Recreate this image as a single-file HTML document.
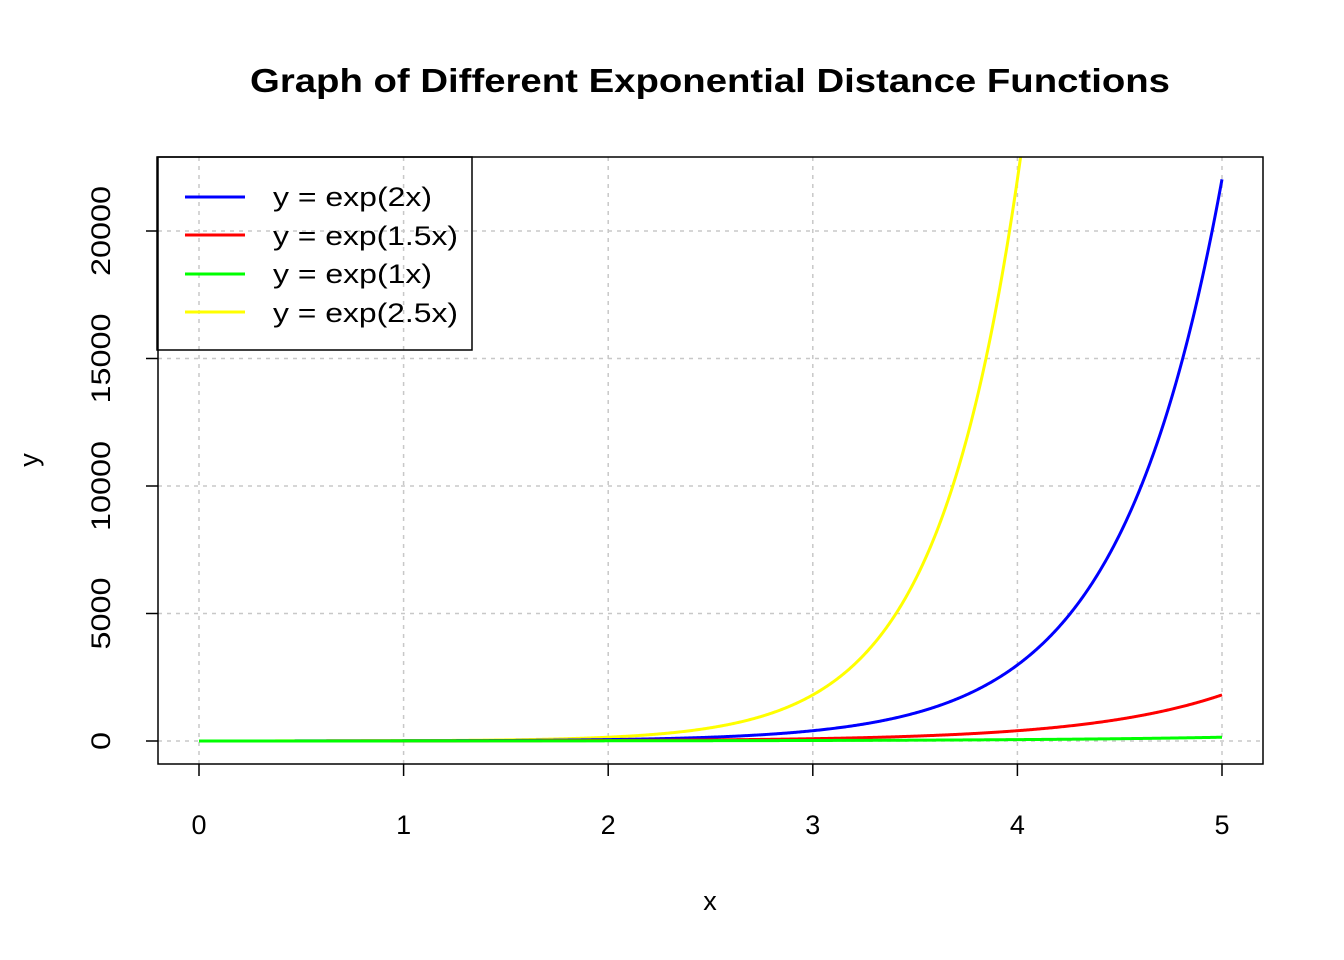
<!DOCTYPE html>
<html><head><meta charset="utf-8"><style>
html,body{margin:0;padding:0;background:#fff;}
svg{display:block;font-family:"Liberation Sans",Arial,sans-serif;}
</style></head><body>
<svg id="s" width="1344" height="960" viewBox="0 0 1344 960" xmlns="http://www.w3.org/2000/svg">
<defs><clipPath id="c"><rect x="158" y="157" width="1105" height="607"/></clipPath></defs>
<rect width="1344" height="960" fill="#fff"/>
<text x="250" y="92" font-size="33" font-weight="bold" textLength="920" lengthAdjust="spacingAndGlyphs">Graph of Different Exponential Distance Functions</text>
<g id="grid" stroke="#c8c8c8" stroke-width="1.5" stroke-dasharray="4,5"></g>
<g id="curves" clip-path="url(#c)" fill="none" stroke-width="3"></g>
<rect x="158" y="157" width="1105" height="607" fill="none" stroke="#000" stroke-width="1.5"/>
<g id="ticks" stroke="#000" stroke-width="1.5"></g>
<g id="labels" font-size="27"></g>
<text x="710" y="910" text-anchor="middle" font-size="27">x</text>
<text transform="translate(38,460) rotate(-90)" text-anchor="middle" font-size="27">y</text>
<rect x="157" y="157" width="315" height="193" fill="none" stroke="#000" stroke-width="1.5"/>
<g font-size="27">
<line x1="185" y1="197" x2="245" y2="197" stroke="#0000ff" stroke-width="3"/>
<text x="273" y="206" textLength="159" lengthAdjust="spacingAndGlyphs">y = exp(2x)</text>
<line x1="185" y1="235" x2="245" y2="235" stroke="#ff0000" stroke-width="3"/>
<text x="273" y="245" textLength="185" lengthAdjust="spacingAndGlyphs">y = exp(1.5x)</text>
<line x1="185" y1="274" x2="245" y2="274" stroke="#00ff00" stroke-width="3"/>
<text x="273" y="283" textLength="159" lengthAdjust="spacingAndGlyphs">y = exp(1x)</text>
<line x1="185" y1="312" x2="245" y2="312" stroke="#ffff00" stroke-width="3"/>
<text x="273" y="322" textLength="185" lengthAdjust="spacingAndGlyphs">y = exp(2.5x)</text>
</g>
</svg>
<script>
var NS="http://www.w3.org/2000/svg";
function X(x){return 199+x*204.6;}
function Y(y){return 741-y*0.0255;}
function el(p,t,a,txt){var e=document.createElementNS(NS,t);for(var k in a)e.setAttribute(k,a[k]);if(txt!=null)e.textContent=txt;document.getElementById(p).appendChild(e);return e;}
for(var i=0;i<=5;i++){
 el("grid","line",{x1:X(i),x2:X(i),y1:157,y2:764});
 el("ticks","line",{x1:X(i),x2:X(i),y1:764,y2:776});
 el("labels","text",{x:X(i),y:834,"text-anchor":"middle"},String(i));
}
for(var j=0;j<=20000;j+=5000){
 el("grid","line",{x1:158,x2:1263,y1:Y(j),y2:Y(j)});
 el("ticks","line",{x1:146,x2:158,y1:Y(j),y2:Y(j)});
 var n=String(j).length;
 el("labels","text",{transform:"translate(110,"+Y(j)+") rotate(-90)","text-anchor":"middle",textLength:(n*18),lengthAdjust:"spacingAndGlyphs"},String(j));
}
[[2.5,"#ffff00"],[2,"#0000ff"],[1.5,"#ff0000"],[1,"#00ff00"]].forEach(function(s){
 var d="";for(var k=0;k<=1000;k++){var x=k*0.005;var y=Math.exp(s[0]*x);var py=Y(y);if(py<-50)py=-50;d+=(k?"L":"M")+X(x).toFixed(2)+","+py.toFixed(2);}
 el("curves","path",{d:d,stroke:s[1]});
});
</script>
</body></html>
